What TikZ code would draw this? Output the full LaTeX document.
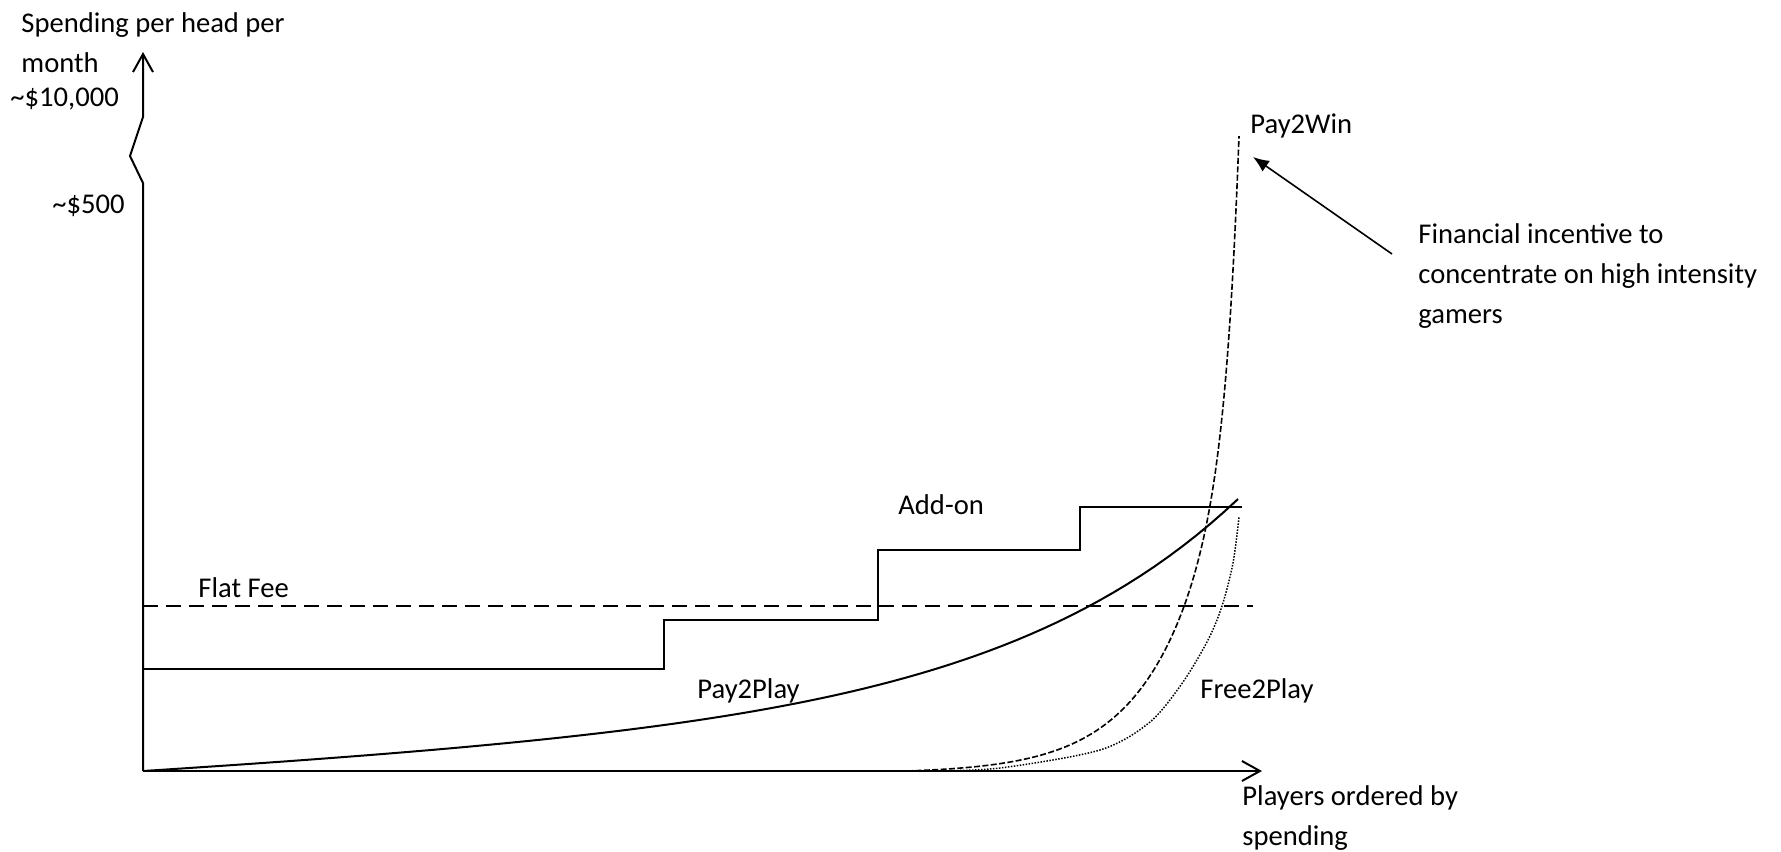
\documentclass[tikz,border=0pt]{standalone}
\usepackage{fontspec}
\setmainfont{Carlito}
\usepackage{tikz}
\usetikzlibrary{arrows,arrows.meta}
\tikzstyle{txt} = [anchor=base west, inner sep=0pt, align=left, font=\fontsize{14.3}{20}\selectfont]
\tikzstyle{axis} = [draw, line width=1pt, -{Straight Barb[length=9pt,width=10pt]}]
\tikzstyle{curve} = [draw, line width=1pt]
\tikzstyle{pointer} = [draw, line width=0.8pt, -{Latex[length=8pt,width=6.5pt]}]

\begin{document}
\begin{tikzpicture}[x=0.5pt,y=-0.5pt]
\useasboundingbox (0,0) rectangle (1781,851);
\coordinate (origin) at (143,771);
\coordinate (xend) at (1262,771);
\coordinate (ytip) at (143,52);
\coordinate (brk-lo) at (143,183);
\coordinate (brk-mid) at (130,156);
\coordinate (brk-hi) at (143,117);
\path [axis] (origin) -- (xend);
\path [axis] (origin) -- (brk-lo) -- (brk-mid) -- (brk-hi) -- (ytip);
% two-line nodes sit on the baseline of their last line
\node [txt] (ylabel) at (21,72) {Spending per head per\\month};
\node [txt] (y-high) at (10,106) {\textasciitilde\$10,000};
\node [txt] (y-low) at (52,213) {\textasciitilde\$500};
\node [txt] (xlabel) at (1242,845) {Players ordered by\\spending};
% flat fee
\path [draw, line width=1pt, dash pattern=on 7.5pt off 4pt] (143,606) -- (1253,606);
\node [txt] (flat) at (198,597) {Flat Fee};
% add-on steps
\path [curve] (143,669) -- (664,669) -- (664,620) -- (878,620) -- (878,550)
  -- (1080,550) -- (1080,507) -- (1242,507);
\node [txt] (addon) at (898,514) {Add-on};
% pay2play
\path [curve] plot [domain=143:1238, samples=80]
  (\x, {771 - 0.055*(\x-143) - 214*(exp((\x-1238)/240) - 0.0104)});
\node [txt] (p2p) at (697,698) {Pay2Play};
% pay2win
\path [draw, line width=0.8pt, dash pattern=on 3pt off 1.2pt] plot [domain=907:1239, samples=200]
  (\x, {773.3 - 383*exp((\x-1239)/65) - 254*exp((\x-1239)/12)});
\node [txt] (p2w) at (1250,133) {Pay2Win};
% free2play
\path [draw, line width=0.75pt, dash pattern=on 0.75pt off 0.75pt] plot [smooth] coordinates {(930,771)
  (1000,768) (1100,750) (1150,722) (1183,682) (1208,640) (1222,606) (1233,563)
  (1239,517)};
\node [txt] (f2p) at (1200,698) {Free2Play};
% annotation
\node [txt] (note) at (1418,323) {Financial incentive to\\concentrate on high intensity\\gamers};
\coordinate (note-tail) at (1392,254);
\coordinate (note-tip) at (1253,157);
\path [pointer] (note-tail) -- (note-tip);
\end{tikzpicture}
\end{document}
